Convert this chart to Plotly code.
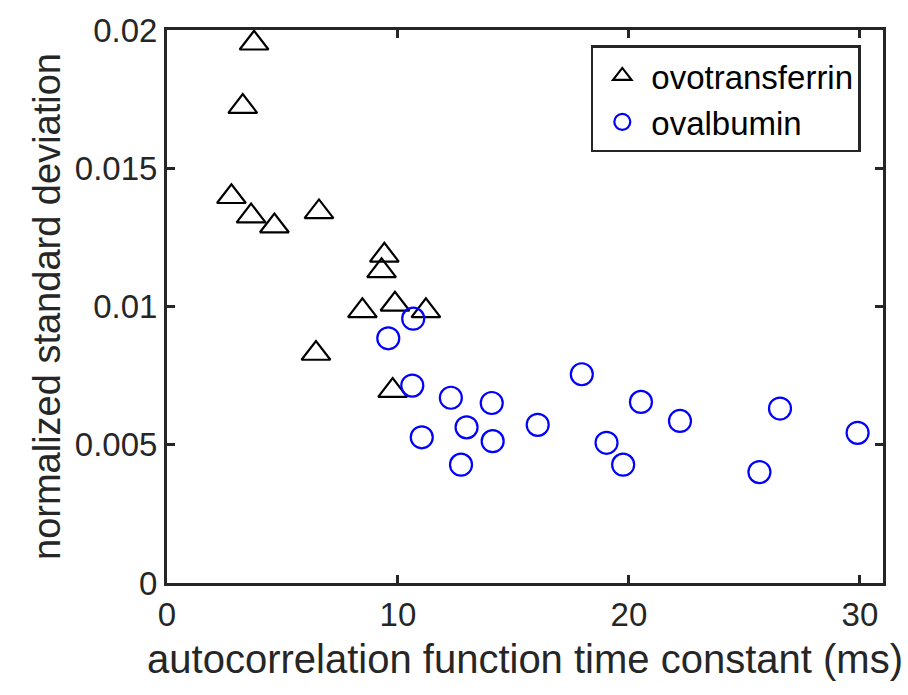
import plotly.graph_objects as go

# ovotransferrin measurements: time constant (ms) vs normalized std. deviation
ovotransferrin_tau = [3.77, 3.28, 2.79, 3.64, 4.65, 6.58, 9.41, 9.29, 8.46, 9.87, 11.21, 6.45, 9.77]
ovotransferrin_sd = [0.01952, 0.01723, 0.01397, 0.01327, 0.01291, 0.01342, 0.01185, 0.01129,
                     0.00984, 0.01008, 0.00984, 0.00830, 0.00696]

# ovalbumin measurements
ovalbumin_tau = [9.58, 10.66, 10.62, 11.03, 12.29, 12.73, 12.97, 14.06, 14.10, 16.05, 17.96,
                 19.03, 19.75, 20.52, 22.21, 25.65, 26.54, 29.90]
ovalbumin_sd = [0.00885, 0.00956, 0.00714, 0.00527, 0.00670, 0.00428, 0.00563, 0.00651, 0.00513,
                0.00572, 0.00755, 0.00507, 0.00428, 0.00655, 0.00586, 0.00401, 0.00631, 0.00543]

x_ticks = [0, 10, 20, 30]
y_ticks = [0, 0.005, 0.01, 0.015, 0.02]

FONT = "Liberation Sans, Arial, sans-serif"
AX = "#262626"

fig = go.Figure()
fig.add_trace(go.Scatter(
    x=ovotransferrin_tau, y=ovotransferrin_sd, mode="markers", name="ovotransferrin",
    marker=dict(symbol="triangle-up-open", size=25, color="black", line=dict(width=2.2)),
))
fig.add_trace(go.Scatter(
    x=ovalbumin_tau, y=ovalbumin_sd, mode="markers", name="ovalbumin",
    marker=dict(symbol="circle-open", size=22, color="#0000ff", line=dict(width=2.2)),
))

axis_common = dict(
    showline=True, linecolor=AX, linewidth=3, mirror="ticks",
    ticks="inside", ticklen=8, tickwidth=3, tickcolor=AX,
    showgrid=False, zeroline=False,
    tickfont=dict(family=FONT, size=33, color=AX),
)

fig.update_layout(
    width=908, height=695,
    margin=dict(l=167, r=25, t=19, b=112),
    paper_bgcolor="white", plot_bgcolor="white",
    font=dict(family=FONT, color=AX),
    xaxis=dict(range=[0, 31], tickvals=x_ticks,
               title=dict(text="autocorrelation function time constant (ms)",
                          font=dict(family=FONT, size=40, color=AX), standoff=14),
               **axis_common),
    yaxis=dict(range=[0, 0.02], tickvals=y_ticks,
               title=dict(text="normalized standard deviation",
                          font=dict(family=FONT, size=38, color=AX), standoff=3),
               **axis_common),
    legend=dict(x=0.969, y=0.972, xanchor="right", yanchor="top",
                bgcolor="white", bordercolor=AX, borderwidth=2.5,
                font=dict(family=FONT, size=33, color="black"),
                itemwidth=48, tracegroupgap=0),
    showlegend=True,
)

fig.write_html("out.html")
